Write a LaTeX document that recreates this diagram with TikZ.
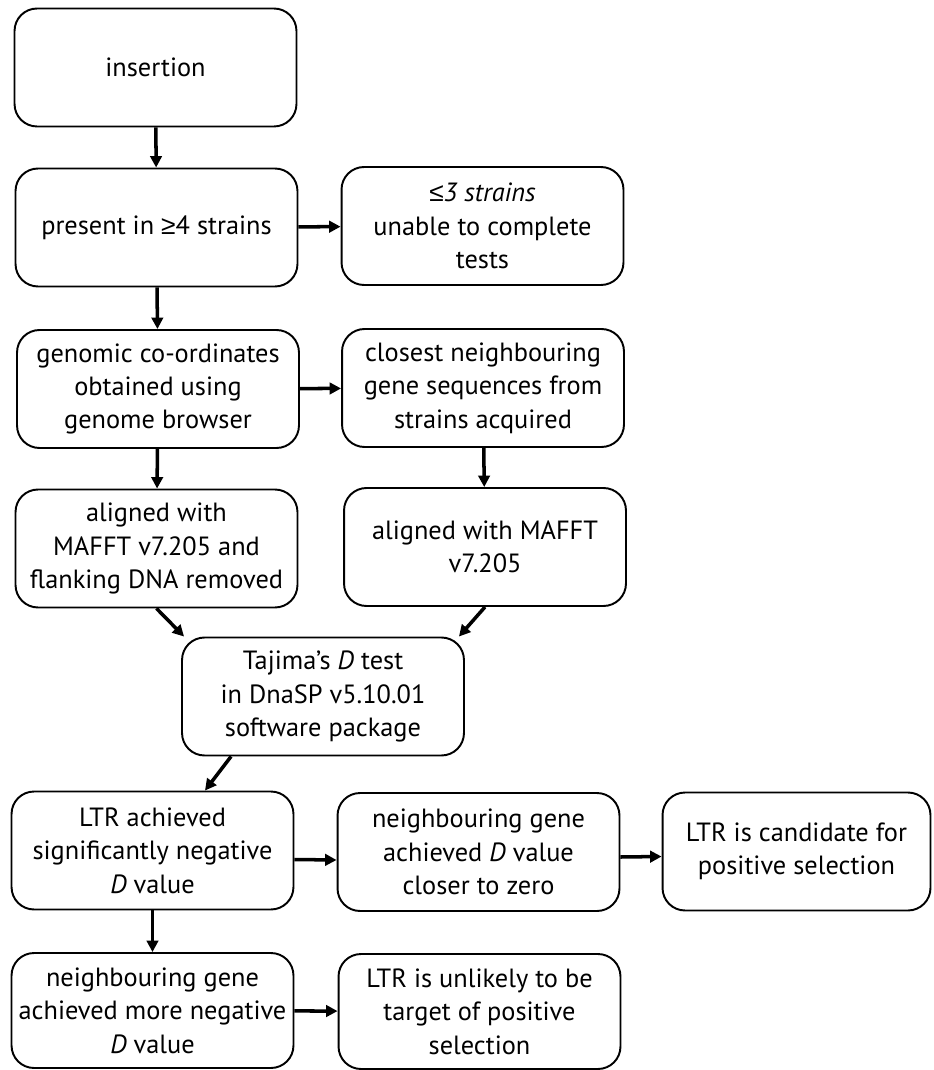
\documentclass[tikz,border=0pt]{standalone}
\usepackage{fontspec}
\setmainfont{PT Sans}
\newfontfamily\symfont{Liberation Sans}
\usetikzlibrary{arrows.meta}

\tikzset{every path/.style={line width=1.1pt}}
\tikzset{stagebox/.style={draw, rounded corners=0.45cm, align=center,
    minimum width=5.64cm, minimum height=2.36cm, inner sep=2pt,
    font=\fontsize{15}{19}\selectfont}}
\tikzset{flow/.style={line width=2pt, -{Triangle[length=6.5pt,width=6.5pt]}}}

\begin{document}
\begin{tikzpicture}[x=0.02cm,y=-0.02cm]
\useasboundingbox (0,0) rectangle (933,1070);
% left column
\node[stagebox] (insertion) at (155.5,67.5) {insertion};
\node[stagebox] (present) at (156.5,227.5) {present in {\symfont≥}4 strains};
\node[stagebox] (coords) at (158,389) {genomic co-ordinates\\obtained using\\genome browser};
\node[stagebox] (alignltr) at (156.5,548.5) {aligned with\\MAFFT v7.205 and\\flanking DNA removed};
% right column
\node[stagebox] (fewstrains) at (482.5,226) {\textit{{\symfont≤}3 strains}\\unable to complete\\tests};
\node[stagebox] (neighbour) at (483,388) {closest neighbouring\\gene sequences from\\strains acquired};
\node[stagebox] (aligngene) at (485,547) {aligned with MAFFT\\v7.205};
% test
\node[stagebox] (tajima) at (323,696.5) {Tajima’s \textit{D} test\\in DnaSP v5.10.01\\software package};
% outcomes
\node[stagebox] (negative) at (152.5,850.5) {LTR achieved\\significantly negative\\\textit{D} value};
\node[stagebox] (closer) at (478.5,852) {neighbouring gene\\achieved \textit{D} value\\closer to zero};
\node[stagebox, minimum width=5.36cm] (candidate) at (796.5,851.5) {LTR is candidate for\\positive selection};
\node[stagebox, minimum height=2.3cm] (morenegative) at (152.5,1010.5) {neighbouring gene\\achieved more negative\\\textit{D} value};
\node[stagebox, minimum height=2.3cm] (unlikely) at (479.5,1011.5) {LTR is unlikely to be\\target of positive\\selection};

\draw[flow] (insertion) -- (present);
\draw[flow] (present) -- (fewstrains);
\draw[flow] (present) -- (coords);
\draw[flow] (coords) -- (neighbour);
\draw[flow] (coords) -- (alignltr);
\draw[flow] (neighbour) -- (aligngene);
\draw[flow] (alignltr.south) -- ([xshift=0.06cm]tajima.north west);
\draw[flow] (aligngene.south) -- ([xshift=-0.12cm]tajima.north east);
\draw[flow] ([xshift=1cm]tajima.south west) -- ([xshift=1.05cm]negative.north);
\draw[flow] ([yshift=-0.18cm]negative.east) -- ([yshift=-0.16cm]closer.west);
\draw[flow] ([yshift=-0.1cm]closer.east) -- ([yshift=-0.1cm]candidate.west);
\draw[flow] (negative) -- (morenegative);
\draw[flow] (morenegative) -- (unlikely);
\end{tikzpicture}
\end{document}
